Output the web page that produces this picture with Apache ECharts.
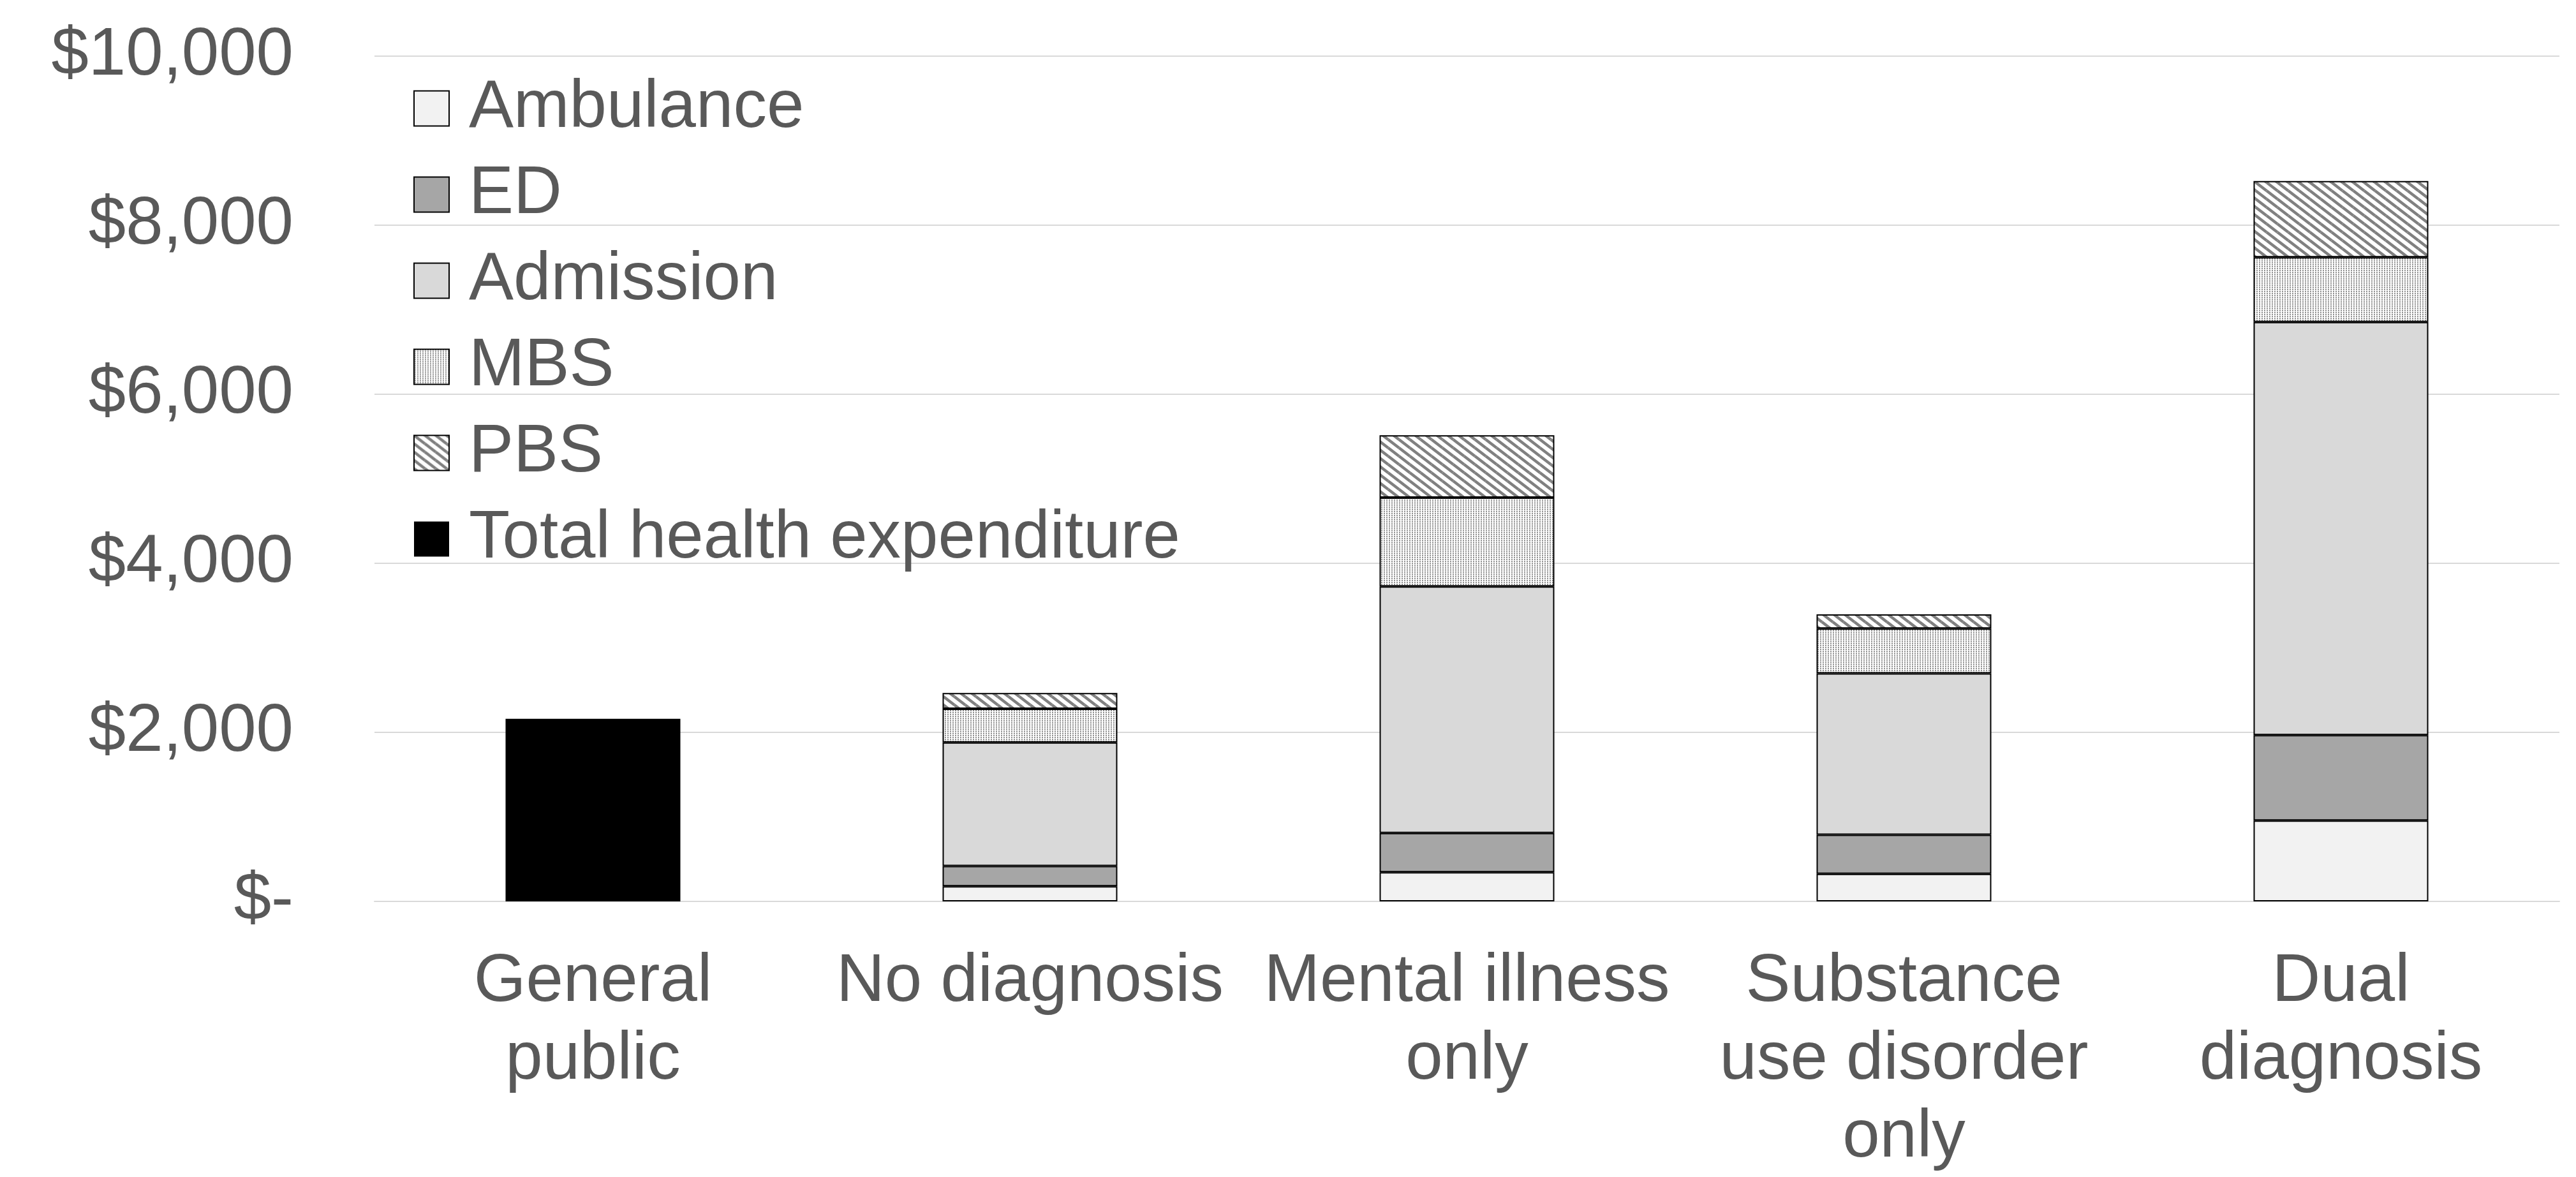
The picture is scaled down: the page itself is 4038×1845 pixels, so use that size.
<!DOCTYPE html>
<html>
<head>
<meta charset="utf-8">
<script src="https://cdn.jsdelivr.net/npm/echarts@6/dist/echarts.min.js"></script>
<style>
html,body{margin:0;padding:0;background:#fff;}
#chart{width:4038px;height:1845px;}
</style>
</head>
<body>
<div id="chart"></div>
<script>
// ---- data ----
var categories = ['General public', 'No diagnosis', 'Mental illness only', 'Substance use disorder only', 'Dual diagnosis'];
var categoryLabels = ['General\npublic', 'No diagnosis', 'Mental illness\nonly', 'Substance\nuse disorder\nonly', 'Dual\ndiagnosis'];
var ambulance = ['-', 180, 346, 327, 957];
var ed = ['-', 239, 464, 461, 1011];
var admission = ['-', 1462, 2917, 1911, 4887];
var mbs = ['-', 398, 1051, 529, 766];
var pbs = ['-', 187, 738, 168, 901];
var totalHealth = [2160, '-', '-', '-', '-'];
var yTicks = [0, 2000, 4000, 6000, 8000, 10000];

// ---- patterns ----
function stripePattern() {
  var w = 17, h = 13;
  var c = document.createElement('canvas');
  c.width = w; c.height = h;
  var ctx = c.getContext('2d');
  ctx.fillStyle = '#ffffff';
  ctx.fillRect(0, 0, w, h);
  ctx.strokeStyle = '#808080';
  ctx.lineWidth = 4.5;
  var offs = [[0,0],[-w,0],[w,0],[0,-h],[0,h]];
  offs.forEach(function (o) {
    ctx.beginPath();
    ctx.moveTo(o[0], o[1]);
    ctx.lineTo(o[0] + w, o[1] + h);
    ctx.stroke();
  });
  return c;
}
function dotPattern() {
  var w = 4, h = 3;
  var c = document.createElement('canvas');
  c.width = w; c.height = h;
  var ctx = c.getContext('2d');
  ctx.fillStyle = '#ffffff';
  ctx.fillRect(0, 0, w, h);
  ctx.fillStyle = '#8f8f8f';
  ctx.fillRect(1, 0, 2, 2);
  return c;
}

var FONT = '"Liberation Sans", Arial, sans-serif';
var TXT = '#595959';

function mkSeries(name, data, color, withBorder) {
  var st = { color: color };
  if (withBorder) { st.borderColor = '#000000'; st.borderWidth = 2; }
  return {
    name: name, type: 'bar', stack: 'cost', data: data,
    barCategoryGap: '60%',
    itemStyle: st
  };
}

var chart = echarts.init(document.getElementById('chart'));
chart.setOption({
  animation: false,
  backgroundColor: '#ffffff',
  grid: { left: 587, right: 26, top: 88, bottom: 417, containLabel: false },
  legend: {
    orient: 'vertical',
    left: 643, top: 105,
    itemWidth: 55, itemHeight: 55,
    itemGap: 15,
    icon: 'rect',
    textStyle: { fontFamily: FONT, fontSize: 105, color: TXT, lineHeight: 120, padding: [0, 0, 0, 26] },
    data: ['Ambulance', 'ED', 'Admission', 'MBS', 'PBS', 'Total health expenditure']
  },
  xAxis: {
    type: 'category',
    data: categories,
    axisLine: { show: true, lineStyle: { color: '#d9d9d9', width: 2 } },
    axisTick: { show: false },
    axisLabel: {
      interval: 0,
      margin: 66,
      fontFamily: FONT, fontSize: 105, color: TXT, lineHeight: 122,
      formatter: function (v, i) { return categoryLabels[i]; }
    }
  },
  yAxis: {
    type: 'value',
    min: yTicks[0], max: yTicks[yTicks.length - 1], interval: 2000,
    axisLine: { show: false },
    axisTick: { show: false },
    splitLine: { lineStyle: { color: '#d9d9d9', width: 2 } },
    axisLabel: {
      margin: 127,
      fontFamily: FONT, fontSize: 105, color: TXT,
      formatter: function (v) { return v === 0 ? '$-' : '$' + v.toLocaleString('en-US'); }
    }
  },
  series: [
    mkSeries('Ambulance', ambulance, '#f2f2f2', true),
    mkSeries('ED', ed, '#a6a6a6', true),
    mkSeries('Admission', admission, '#d9d9d9', true),
    mkSeries('MBS', mbs, { image: dotPattern(), repeat: 'repeat' }, true),
    mkSeries('PBS', pbs, { image: stripePattern(), repeat: 'repeat' }, true),
    mkSeries('Total health expenditure', totalHealth, '#000000', false)
  ]
});
</script>
</body>
</html>
